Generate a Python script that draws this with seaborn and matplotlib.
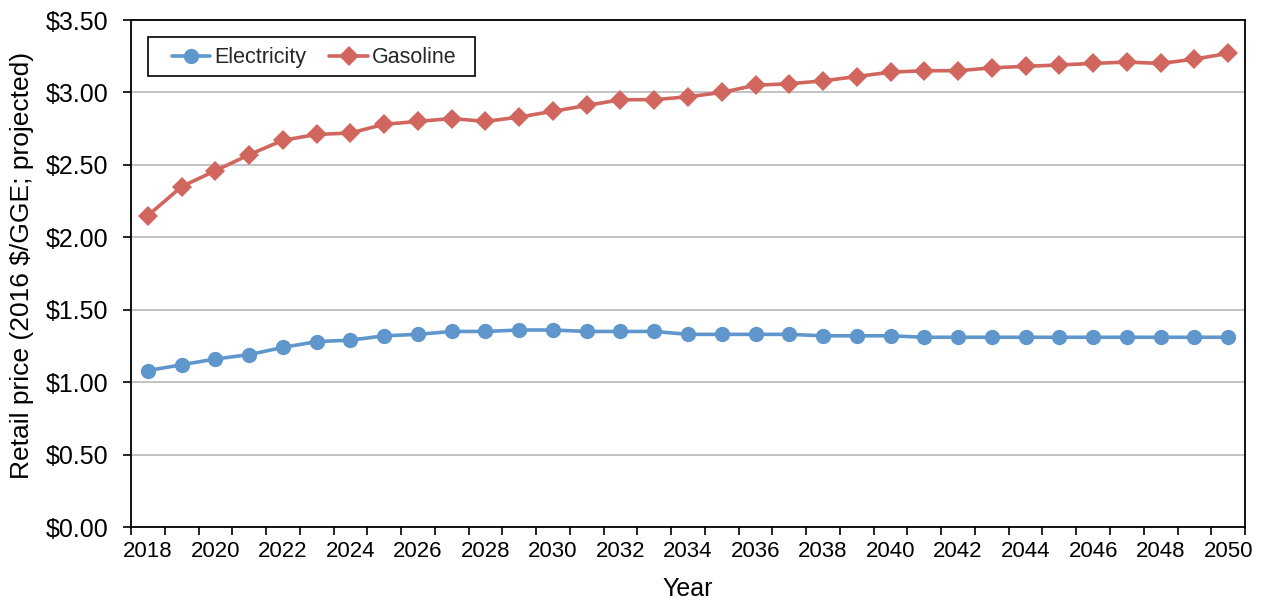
import matplotlib
matplotlib.use("Agg")
import matplotlib.pyplot as plt
from matplotlib.ticker import FixedLocator, FuncFormatter
from matplotlib.patches import Rectangle
import seaborn as sns
import pandas as pd
import numpy as np

years = list(range(2018, 2051))
electricity = [1.08, 1.12, 1.16, 1.19, 1.24, 1.28, 1.29, 1.32, 1.33, 1.35, 1.35,
               1.36, 1.36, 1.35, 1.35, 1.35, 1.33, 1.33, 1.33, 1.33, 1.32, 1.32,
               1.32, 1.31, 1.31, 1.31, 1.31, 1.31, 1.31, 1.31, 1.31, 1.31, 1.31]
gasoline = [2.15, 2.35, 2.46, 2.57, 2.67, 2.71, 2.72, 2.78, 2.80, 2.82, 2.80,
            2.83, 2.87, 2.91, 2.95, 2.95, 2.97, 3.00, 3.05, 3.06, 3.08, 3.11,
            3.14, 3.15, 3.15, 3.17, 3.18, 3.19, 3.20, 3.21, 3.20, 3.23, 3.27]
series_names = ["Electricity", "Gasoline"]
colors = ["#5F97CD", "#D0665D"]
markers = ["o", "D"]

sns.set_theme(style="white")
plt.rcParams["font.family"] = ["Liberation Sans", "DejaVu Sans"]

df = pd.DataFrame({
    "pos": list(range(len(years))) * 2,
    "Year": years * 2,
    "price": electricity + gasoline,
    "series": [series_names[0]] * len(years) + [series_names[1]] * len(years),
})

fig = plt.figure(figsize=(12.68, 6.01), dpi=100)
ax = fig.add_axes([0.1033, 0.1231, 0.8786, 0.8436])

sns.lineplot(data=df, x="pos", y="price", hue="series", style="series",
             palette=colors, markers=markers, dashes=False, linewidth=2.6,
             markersize=11, markeredgewidth=0, ax=ax)
# diamonds need a slightly different size to look as big as the circles
for line in ax.get_lines():
    if line.get_marker() == "D":
        line.set_markersize(10.5)

ax.set_xlim(-0.5, len(years) - 0.5)
ax.set_ylim(0, 3.5)

# category axis: boundaries get tick marks, every second year gets a label
ax.xaxis.set_major_locator(FixedLocator(list(range(0, len(years), 2))))
ax.xaxis.set_major_formatter(FuncFormatter(lambda v, p: str(years[int(round(v))])))
ax.xaxis.set_minor_locator(FixedLocator([i - 0.5 for i in range(len(years) + 1)]))
ax.tick_params(axis="x", which="major", length=0, pad=10, labelsize=16, colors="black")
ax.tick_params(axis="x", which="minor", length=6, width=1.2, direction="out",
               color="black", bottom=True)

ax.yaxis.set_major_locator(FixedLocator(np.arange(0, 3.51, 0.5)))
ax.yaxis.set_major_formatter(FuncFormatter(lambda v, p: f"${v:.2f}"))
ax.tick_params(axis="y", length=6, width=1.2, direction="out", left=True,
               labelsize=18, colors="black", pad=10)

ax.grid(axis="y", color="#B3B3B3", linewidth=1.1)
ax.grid(axis="x", visible=False)
ax.set_axisbelow(True)
for side in ["left", "bottom", "right", "top"]:
    ax.spines[side].set_visible(True)
    ax.spines[side].set_color("black")
    ax.spines[side].set_linewidth(1.3)

ax.set_xlabel("Year", fontsize=18, color="black", labelpad=11)
ax.set_ylabel("Retail price (2016 $/GGE; projected)", fontsize=19, color="black")
ax.yaxis.set_label_coords(-0.0975, 0.515)
ax.yaxis.label.set_verticalalignment("center")

handles, labels = ax.get_legend_handles_labels()
leg = ax.legend(handles, labels, loc="center left", bbox_to_anchor=(0.0365, 0.9256),
                ncol=2, frameon=False, fontsize=15.5, borderpad=0, borderaxespad=0,
                handlelength=1.8, handletextpad=0.2, columnspacing=1.05)
# legend frame with wider side padding
ax.add_patch(Rectangle((0.0153, 0.890), 0.2935, 0.077, transform=ax.transAxes,
                       fill=True, facecolor="white", edgecolor="black",
                       linewidth=1.2, zorder=4))
leg.set_zorder(5)

fig.savefig("out.png", dpi=100)
